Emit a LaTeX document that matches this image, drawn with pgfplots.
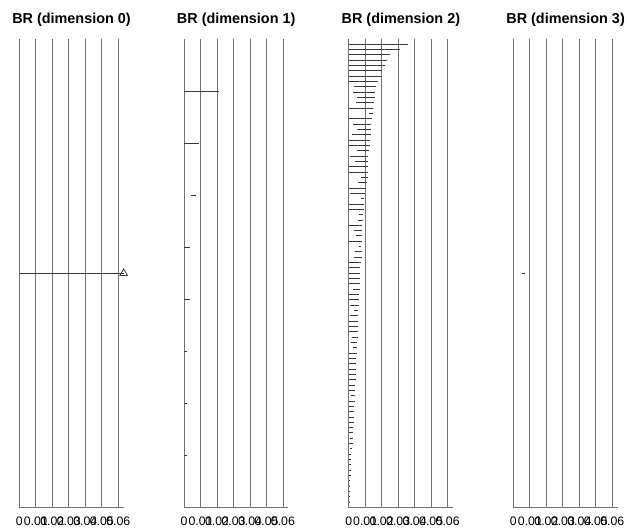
\documentclass[border=0pt]{standalone}
\usepackage{fontspec}
\setmainfont{Liberation Sans}
\usepackage{pgfplots}
\usepackage{pgfplotstable}
\pgfplotsset{compat=1.18}

\definecolor{gridgray}{gray}{0.45}
\definecolor{bargray}{gray}{0.22}

% birth / death of each bar, one table per dimension (top bar first)
\pgfplotstableread{
b d
0 0.0212
0 0.0089
0.0040 0.0072
0 0.0036
0 0.0034
0 0.0020
0 0.0016
0 0.0016
}\dimone

\pgfplotstableread{
b d
0 0.0361
0 0.0311
0 0.0252
0 0.0234
0 0.0219
0 0.0199
0 0.0197
0 0.0180
0.0033 0.0166
0.0027 0.0162
0.0053 0.0160
0.0045 0.0154
0 0.0148
0.0125 0.0145
0 0.0141
0.0027 0.0137
0.0049 0.0135
0.0018 0.0135
0 0.0131
0 0.0129
0.0053 0.0123
0.0010 0.0119
0.0039 0.0115
0 0.0119
0 0.0117
0.0074 0.0115
0.0057 0.0111
0 0.0107
0.0008 0.0096
0.0074 0.0094
0 0.0090
0 0.0090
0.0064 0.0086
0.0057 0.0086
0 0.0082
0.0033 0.0080
0.0047 0.0080
0 0.0082
0.0064 0.0076
0.0041 0.0078
0.0031 0.0078
0 0.0074
0 0.0070
0 0.0070
0 0.0068
0 0.0068
0.0027 0.0068
0 0.0061
0 0.0061
0.0008 0.0061
0.0031 0.0059
0.0008 0.0059
0 0.0059
0 0.0059
0 0.0055
0.0023 0.0055
0.0016 0.0053
0.0029 0.0049
0 0.0049
0 0.0045
0 0.0045
0 0.0045
0 0.0045
0 0.0043
0 0.0041
0 0.0039
0.0012 0.0037
0 0.0037
0 0.0033
0 0.0033
0 0.0033
0 0.0033
0 0.0029
0 0.0029
0.0006 0.0025
0 0.0025
0.0008 0.0020
0 0.0016
0 0.0012
0 0.0012
0 0.0012
0 0.0012
0 0.0010
0 0.0008
0 0.0006
0 0.0004
0 0.0002
}\dimtwo

\pgfplotstableread{
b d
0.0050 0.0068
}\dimthree

\pgfplotsset{
  barcode/.style={
    scale only axis, width=104.4pt, height=468.5pt,
    anchor=south west,
    xmin=0, xmax=0.0633, ymin=0, y dir=reverse,
    axis x line*=bottom, axis y line=none,
    x axis line style={-, draw=gridgray, line width=0.9pt},
    xtick={0,0.01,0.02,0.03,0.04,0.05,0.06},
    xticklabels={0,0.01,0.02,0.03,0.04,0.05,0.06},
    xmajorgrids,
    major grid style={draw=gridgray, line width=0.9pt},
    major tick length=0pt,
    ytick=\empty,
    clip=false,
    xticklabel style={font=\fontsize{12.3}{14}\selectfont, anchor=base, inner sep=0pt, yshift=-17.5pt},
    title style={font=\fontsize{14.4}{17}\selectfont\bfseries, yshift=2.5pt},
  },
  barline/.style={
    only marks, mark=*, mark size=0pt, mark options={draw=none, fill=none},
    error bars/.cd, x dir=plus, x explicit, error mark=none,
    error bar style={draw=bargray, line width=1pt},
  },
}

\begin{document}
\begin{tikzpicture}
\useasboundingbox (0,0) rectangle (627pt,531pt);

\begin{axis}[barcode, at={(19.3pt,23.5pt)}, ymax=2, title={BR (dimension 0)}]
  \addplot[draw=bargray, line width=1pt, mark=triangle, mark indices={2}, mark size=4.3pt,
           mark options={fill=white, draw=bargray, line width=0.8pt}]
    coordinates {(0,1) (0.0633,1)};
\end{axis}

\begin{axis}[barcode, at={(184pt,23.5pt)}, ymax=9, title={BR (dimension 1)}]
  \addplot[barline] table[x=b, y expr=\coordindex+1, x error expr=\thisrow{d}-\thisrow{b}] {\dimone};
\end{axis}

\begin{axis}[barcode, at={(348.7pt,23.5pt)}, ymax=88, title={BR (dimension 2)}]
  \addplot[barline] table[x=b, y expr=\coordindex+1, x error expr=\thisrow{d}-\thisrow{b}] {\dimtwo};
\end{axis}

\begin{axis}[barcode, at={(513.4pt,23.5pt)}, ymax=2, title={BR (dimension 3)}]
  \addplot[barline] table[x=b, y expr=\coordindex+1, x error expr=\thisrow{d}-\thisrow{b}] {\dimthree};
\end{axis}
\end{tikzpicture}
\end{document}
